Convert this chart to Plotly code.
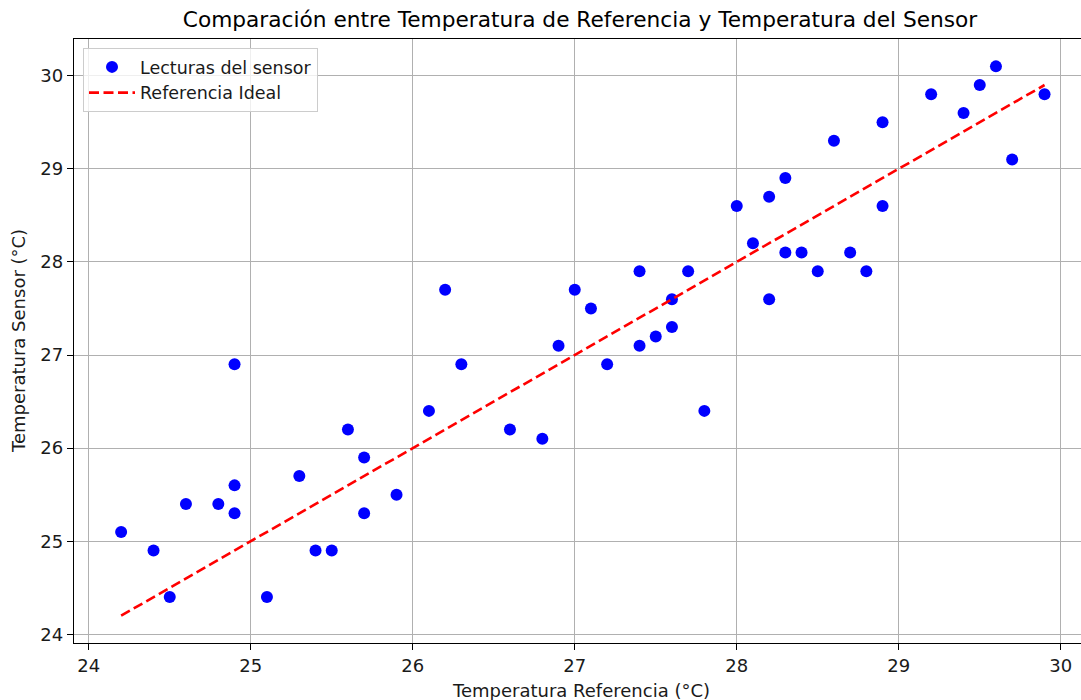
import plotly.graph_objects as go

# Data
temp_referencia = [24.2, 24.4, 24.5, 24.6, 24.8, 24.9, 24.9, 24.9, 25.1, 25.3,
                   25.4, 25.5, 25.6, 25.7, 25.7, 25.9, 26.1, 26.2, 26.3, 26.6,
                   26.8, 26.9, 27.0, 27.1, 27.2, 27.4, 27.4, 27.5, 27.6, 27.6,
                   27.7, 27.8, 28.0, 28.1, 28.2, 28.2, 28.3, 28.3, 28.4, 28.5,
                   28.6, 28.7, 28.8, 28.9, 28.9, 29.2, 29.4, 29.5, 29.6, 29.7,
                   29.9]
temp_sensor = [25.1, 24.9, 24.4, 25.4, 25.4, 26.9, 25.6, 25.3, 24.4, 25.7,
               24.9, 24.9, 26.2, 25.9, 25.3, 25.5, 26.4, 27.7, 26.9, 26.2,
               26.1, 27.1, 27.7, 27.5, 26.9, 27.9, 27.1, 27.2, 27.6, 27.3,
               27.9, 26.4, 28.6, 28.2, 28.7, 27.6, 28.9, 28.1, 28.1, 27.9,
               29.3, 28.1, 27.9, 29.5, 28.6, 29.8, 29.6, 29.9, 30.1, 29.1,
               29.8]
linea_ideal_x = [min(temp_referencia), max(temp_referencia)]
linea_ideal_y = [min(temp_referencia), max(temp_referencia)]

titulo = "Comparación entre Temperatura de Referencia y Temperatura del Sensor"
etiqueta_x = "Temperatura Referencia (°C)"
etiqueta_y = "Temperatura Sensor (°C)"

FONT = "DejaVu Sans"
W, H = 1081, 700
L, R, T, B = 74, 0, 39, 57
PW, PH = W - L - R, H - T - B

fig = go.Figure()
fig.add_trace(go.Scatter(
    x=temp_referencia, y=temp_sensor, mode="markers",
    name="Lecturas del sensor",
    marker=dict(color="#0000ff", size=12, line=dict(width=0)),
))
fig.add_trace(go.Scatter(
    x=linea_ideal_x, y=linea_ideal_y, mode="lines",
    name="Referencia Ideal",
    line=dict(color="#ff0000", width=2.6, dash="10px,4.5px"),
))

axis_common = dict(
    showgrid=True, gridcolor="#b0b0b0", gridwidth=1.4,
    zeroline=False, showline=True, linecolor="black", linewidth=1.4,
    ticks="outside", ticklen=6, tickcolor="black", tickwidth=1.4,
    tickfont=dict(family=FONT, size=18, color="#1a1a1a"),
    dtick=1, automargin=False,
)

fig.update_layout(
    width=W, height=H,
    paper_bgcolor="white", plot_bgcolor="white",
    margin=dict(l=L, r=R, t=T, b=B),
    font=dict(family=FONT, color="black"),
    title=dict(
        text=titulo,
        font=dict(family=FONT, size=21.7, color="black"),
        x=580 / W, xref="container", xanchor="center",
        y=1 - 19 / H, yref="container", yanchor="middle",
    ),
    xaxis=dict(**axis_common, range=[23.909, 30.125], mirror=True),
    yaxis=dict(**axis_common, range=[23.907, 30.394], mirror=False),
    legend=dict(
        x=9 / PW, y=1 - 9 / PH, xanchor="left", yanchor="top",
        bgcolor="rgba(255,255,255,0.8)", bordercolor="#cccccc", borderwidth=1,
        font=dict(family=FONT, size=17.5, color="#1a1a1a"),
        tracegroupgap=0, itemwidth=46,
    ),
    showlegend=True,
    annotations=[
        dict(text=etiqueta_x, xref="paper", yref="paper",
             x=(581 - L) / PW, y=-(690 - (H - B)) / PH,
             xanchor="center", yanchor="middle", showarrow=False,
             font=dict(family=FONT, size=18, color="#1a1a1a")),
        dict(text=etiqueta_y, xref="paper", yref="paper",
             x=-(L - 18) / PW, y=((H - B) - 341) / PH, textangle=-90,
             xanchor="center", yanchor="middle", showarrow=False,
             font=dict(family=FONT, size=18, color="#1a1a1a")),
    ],
)

fig.write_html(
    "out.html",
    config={"displayModeBar": False},
    post_script="document.body.style.margin='0';document.body.style.overflow='hidden';",
)
